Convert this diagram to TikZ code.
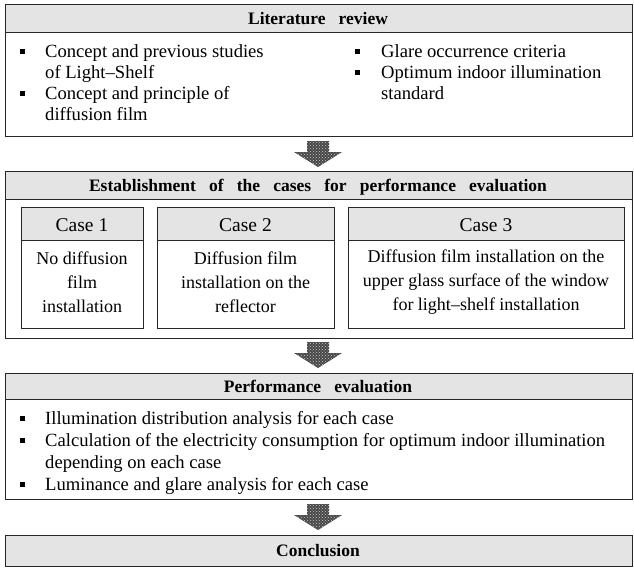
\documentclass[tikz,border=0pt]{standalone}
\usepackage{fontspec}
\setmainfont{Liberation Serif}
\usetikzlibrary{patterns}
\definecolor{hdr}{RGB}{228,228,228}
\tikzset{
  frame/.style={draw=black!85, line width=0.9pt},
  ttl/.style={font=\bfseries\fontsize{17.5}{20}\selectfont, inner sep=0pt, anchor=base},
  txt/.style={font=\fontsize{18.6}{21.5}\selectfont, inner sep=0pt, anchor=base west},
  ctxt/.style={font=\fontsize{18}{24}\selectfont, inner sep=0pt, align=center},
  chdr/.style={font=\fontsize{19.5}{22}\selectfont, inner sep=0pt, anchor=base},
  bul/.style={fill=black, minimum size=5pt, inner sep=0pt}
}
\newcommand{\blockdown}[2]{%
  \fill[black!72] (#1-11,#2) -- (#1+11,#2) -- (#1+11,#2+11) -- (#1+24,#2+11) -- (#1,#2+26) -- (#1-24,#2+11) -- (#1-11,#2+11) -- cycle;
  \fill[pattern=crosshatch dots, pattern color=white!80!black] (#1-11,#2) -- (#1+11,#2) -- (#1+11,#2+11) -- (#1+24,#2+11) -- (#1,#2+26) -- (#1-24,#2+11) -- (#1-11,#2+11) -- cycle;
}
\newcommand{\wsp}{\hspace{0.75em}}
\begin{document}
\begin{tikzpicture}[x=1pt,y=-1pt]
\useasboundingbox (0,0) rectangle (634,573);
% ---------- Box 1
\fill[hdr] (5,4) rectangle (632,32);
\draw[frame] (5,4) rectangle (632,136);
\draw[frame] (5,32) -- (632,32);
\node[ttl] (t1) at (318,24) {Literature\wsp review};
\node[bul] (b1) at (22,51) {};
\node[txt] (l1a) at (45,57) {Concept and previous studies};
\node[txt] (l1b) at (45,78) {of Light\textendash Shelf};
\node[bul] (b2) at (22,93) {};
\node[txt] (l2a) at (45,99) {Concept and principle of};
\node[txt] (l2b) at (45,120) {diffusion film};
\node[bul] (b3) at (357,51) {};
\node[txt] (l3) at (381,57) {Glare occurrence criteria};
\node[bul] (b4) at (357,72) {};
\node[txt] (l4a) at (381,78) {Optimum indoor illumination};
\node[txt] (l4b) at (381,99) {standard};
% arrow 1
\blockdown{318}{141}
% ---------- Box 2
\fill[hdr] (5,171) rectangle (632,199);
\draw[frame] (5,171) rectangle (632,338);
\draw[frame] (5,199) -- (632,199);
\node[ttl] (t2) at (318,191) {Establishment\wsp of\wsp the\wsp cases\wsp for\wsp performance\wsp evaluation};
% cases
\foreach \xa/\xb in {21/143, 157/334, 348/624}{
  \fill[hdr] (\xa,207) rectangle (\xb,240);
  \draw[frame] (\xa,207) rectangle (\xb,328);
  \draw[frame] (\xa,240) -- (\xb,240);
}
\node[chdr] (h1) at (82,231) {Case 1};
\node[chdr] (h2) at (245.5,231) {Case 2};
\node[chdr] (h3) at (486,231) {Case 3};
\node[ctxt] (d1) at (82,282) {No diffusion\\film\\installation};
\node[ctxt] (d2) at (245.5,282) {Diffusion film\\installation on the\\reflector};
\node[ctxt] (d3) at (486,282) {Diffusion film installation on the\\upper glass surface of the window\\for light\textendash shelf installation};
% arrow 2
\blockdown{318}{342}
% ---------- Box 3
\fill[hdr] (5,373) rectangle (632,399);
\draw[frame] (5,373) rectangle (632,499);
\draw[frame] (5,399) -- (632,399);
\node[ttl] (t3) at (318,392) {Performance\wsp evaluation};
\node[bul] (b5) at (22,418) {};
\node[txt] (l5) at (45,424) {Illumination distribution analysis for each case};
\node[bul] (b6) at (22,440) {};
\node[txt] (l6a) at (45,446) {Calculation of the electricity consumption for optimum indoor illumination};
\node[txt] (l6b) at (45,468) {depending on each case};
\node[bul] (b7) at (22,484) {};
\node[txt] (l7) at (45,490) {Luminance and glare analysis for each case};
% arrow 3
\blockdown{318}{504}
% ---------- Box 4
\fill[hdr] (5,535) rectangle (632,566);
\draw[frame] (5,535) rectangle (632,566);
\node[ttl] (t4) at (318,556) {Conclusion};
\end{tikzpicture}
\end{document}
